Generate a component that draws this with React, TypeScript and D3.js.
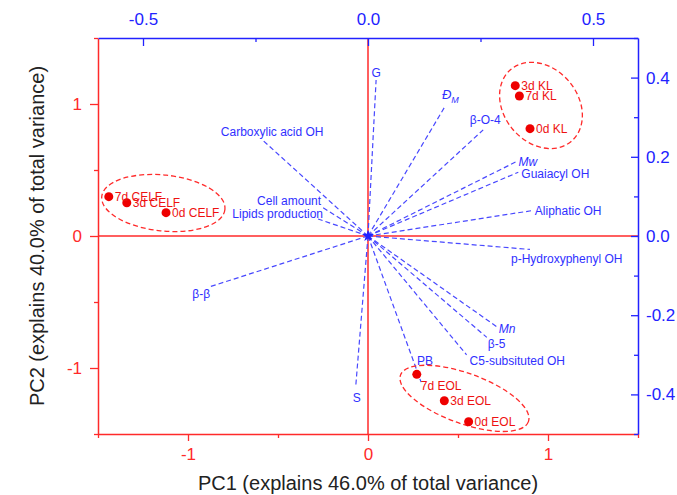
import * as d3 from "d3";
import React, { useRef, useEffect } from "react";

// sample scores (bottom / left axes)
const scoreNames = ["7d CELF", "3d CELF", "0d CELF", "3d KL", "7d KL", "0d KL", "7d EOL", "3d EOL", "0d EOL"];
const scorePC1 = [-1.44, -1.34, -1.122, 0.818, 0.841, 0.9, 0.271, 0.424, 0.559];
const scorePC2 = [0.298, 0.252, 0.177, 1.139, 1.061, 0.813, -1.048, -1.248, -1.407];

// variable loadings (top / right axes)
const loadingNames = [
  "G", "ĐM", "β-O-4", "Mw", "Guaiacyl OH", "Aliphatic OH", "p-Hydroxyphenyl OH", "Mn", "β-5",
  "C5-subsituted OH", "PB", "S", "β-β", "Carboxylic acid OH", "Cell amount", "Lipids production",
];
const loadingPC1 = [0.018, 0.171, 0.256, 0.33, 0.334, 0.364, 0.36, 0.286, 0.264, 0.219, 0.118, -0.027, -0.351, -0.233, -0.102, -0.111];
const loadingPC2 = [0.394, 0.327, 0.268, 0.188, 0.161, 0.064, -0.034, -0.229, -0.256, -0.3, -0.369, -0.376, -0.128, 0.241, 0.073, 0.043];
const italicNames = ["ĐM", "Mw", "Mn"];

// group ellipses, in score units
const groupNames = ["CELF", "KL", "EOL"];
const groupPC1 = [-1.137, 0.961, 0.536];
const groupPC2 = [0.25, 0.989, -1.23];
const groupSpreadPC1 = [0.344, 0.261, 0.378];
const groupSpreadPC2 = [0.212, 0.28, 0.19];
const groupTilt = [6, 50, 20];

const bottomTicks = [-1.5, -1, -0.5, 0, 0.5, 1, 1.5];
const leftTicks = [-1.5, -1, -0.5, 0, 0.5, 1, 1.5];
const topTicks = [-0.5, -0.25, 0, 0.25, 0.5];
const rightTicks = [-0.5, -0.4, -0.3, -0.2, -0.1, 0, 0.1, 0.2, 0.3, 0.4, 0.5];
const topLabels = [-0.5, 0, 0.5];
const rightLabels = [-0.4, -0.2, 0, 0.2, 0.4];

// label placement for loading names: [anchor, dx, dy]
const loadingLabelPos: Record<string, [string, number, number]> = {
  "G": ["middle", 0, -3],
  "ĐM": ["start", -3, -8],
  "β-O-4": ["middle", 2, -6],
  "Mw": ["start", 2, 4],
  "Guaiacyl OH": ["start", 3, 6],
  "Aliphatic OH": ["start", 3, 4],
  "p-Hydroxyphenyl OH": ["start", -19, 14],
  "Mn": ["start", 2, 6],
  "β-5": ["start", 1, 11],
  "C5-subsituted OH": ["start", 3, 10],
  "PB": ["start", -4, -17],
  "S": ["middle", 1, 17],
  "β-β": ["end", 0, 11],
  "Carboxylic acid OH": ["middle", 9, -5],
  "Cell amount": ["end", -1, -2],
  "Lipids production": ["end", 5, -1],
};

const RED = "#ff2a2a";
const BLUE = "#2222ff";
const FONT = "'Liberation Sans', Arial, sans-serif";

export default function App() {
  const svgRef = useRef<SVGSVGElement>(null);

  useEffect(() => {
    const width = 677;
    const height = 495;
    const left = 98, right = 638, top = 38, bottom = 434;

    const x = d3.scaleLinear().domain([-1.5, 1.5]).range([left, right]);
    const y = d3.scaleLinear().domain([-1.5, 1.5]).range([bottom, top]);
    const xTop = d3.scaleLinear().domain([-0.6, 0.6]).range([left, right]);
    const yRight = d3.scaleLinear().domain([-0.5, 0.5]).range([bottom, top]);

    const svg = d3.select(svgRef.current).attr("width", width).attr("height", height);
    svg.selectAll("*").remove();
    svg.style("font-family", FONT);

    // zero lines
    svg.append("line").attr("x1", left).attr("x2", right).attr("y1", y(0)).attr("y2", y(0))
      .attr("stroke", RED).attr("stroke-width", 1.5);
    svg.append("line").attr("x1", x(0)).attr("x2", x(0)).attr("y1", top).attr("y2", bottom)
      .attr("stroke", RED).attr("stroke-width", 1.5);

    // loadings
    const loadings = loadingNames.map((n, i) => ({ name: n, px: xTop(loadingPC1[i]), py: yRight(loadingPC2[i]) }));
    svg.append("g").selectAll("line").data(loadings).enter().append("line")
      .attr("x1", xTop(0)).attr("y1", yRight(0))
      .attr("x2", (d) => d.px).attr("y2", (d) => d.py)
      .attr("stroke", "#4848ff").attr("stroke-width", 1.2).attr("stroke-dasharray", "5,3");

    const lbl = svg.append("g").selectAll("text").data(loadings).enter().append("text")
      .attr("x", (d) => d.px + loadingLabelPos[d.name][1])
      .attr("y", (d) => d.py + loadingLabelPos[d.name][2])
      .attr("text-anchor", (d) => loadingLabelPos[d.name][0])
      .attr("font-size", 12).attr("fill", "#3030ff")
      .attr("font-style", (d) => (italicNames.includes(d.name) ? "italic" : "normal"));
    lbl.each(function (d) {
      const t = d3.select(this);
      if (d.name === "ĐM") {
        t.append("tspan").text("Đ").attr("font-size", 13);
        t.append("tspan").text("M").attr("font-size", 9).attr("dy", 4);
      } else {
        t.text(d.name);
      }
    });

    svg.append("path").attr("d", d3.symbol(d3.symbolStar, 45)())
      .attr("transform", `translate(${xTop(0)},${yRight(0)})`).attr("fill", BLUE);

    // group ellipses
    svg.append("g").selectAll("ellipse").data(groupNames).enter().append("ellipse")
      .attr("cx", 0).attr("cy", 0)
      .attr("rx", (d, i) => x(groupSpreadPC1[i]) - x(0))
      .attr("ry", (d, i) => y(0) - y(groupSpreadPC2[i]))
      .attr("transform", (d, i) => `translate(${x(groupPC1[i])},${y(groupPC2[i])}) rotate(${groupTilt[i]})`)
      .attr("fill", "none").attr("stroke", RED).attr("stroke-width", 1.3).attr("stroke-dasharray", "5,3");

    // scores
    const scores = scoreNames.map((n, i) => ({ name: n, px: x(scorePC1[i]), py: y(scorePC2[i]) }));
    svg.append("g").selectAll("circle").data(scores).enter().append("circle")
      .attr("cx", (d) => d.px).attr("cy", (d) => d.py).attr("r", 4.5).attr("fill", "#ee0000");
    svg.append("g").selectAll("text").data(scores).enter().append("text")
      .attr("x", (d) => d.px + (d.name === "7d EOL" ? 4 : 6))
      .attr("y", (d) => d.py + (d.name === "7d EOL" ? 16 : 4.5))
      .attr("font-size", 12).attr("fill", "#ee1111").text((d) => d.name);

    // axes
    const styleAxis = (g: any, color: string, majors: number[], fmt: (v: number) => string, fs: number) => {
      g.select(".domain").attr("stroke", color).attr("stroke-width", 1.5);
      g.selectAll(".tick line").attr("stroke", color).attr("stroke-width", 1.3);
      g.selectAll(".tick text").attr("fill", color).attr("font-size", fs).attr("font-family", FONT)
        .text((d: number) => (majors.some((m) => Math.abs(m - d) < 1e-9) ? fmt(d) : ""));
    };
    const intFmt = (v: number) => (v < 0 ? "-" : "") + Math.abs(v).toString();
    const decFmt = (v: number) => (v < 0 ? "-" : "") + Math.abs(v).toFixed(1);

    const gb = svg.append("g").attr("transform", `translate(0,${bottom})`)
      .call(d3.axisBottom(x).tickValues(bottomTicks).tickSizeOuter(0).tickSizeInner(7).tickPadding(7));
    styleAxis(gb, RED, [-1, 0, 1], intFmt, 17);
    gb.selectAll(".tick line").attr("y2", (d: number) => (Number.isInteger(d) ? 7 : 4));

    const gl = svg.append("g").attr("transform", `translate(${left},0)`)
      .call(d3.axisLeft(y).tickValues(leftTicks).tickSizeOuter(0).tickSizeInner(8).tickPadding(8));
    styleAxis(gl, RED, [-1, 0, 1], intFmt, 17);
    gl.selectAll(".tick line").attr("x2", (d: number) => (Number.isInteger(d) ? -8 : -4));

    const gt = svg.append("g").attr("transform", `translate(0,${top})`)
      .call(d3.axisTop(xTop).tickValues(topTicks).tickSizeOuter(0).tickSizeInner(-8).tickPadding(13));
    styleAxis(gt, BLUE, topLabels, decFmt, 17);
    gt.selectAll(".tick line").attr("y2", (d: number) => (topLabels.includes(d) ? 8 : 4));

    const gr = svg.append("g").attr("transform", `translate(${right},0)`)
      .call(d3.axisRight(yRight).tickValues(rightTicks).tickSizeOuter(0).tickSizeInner(-7).tickPadding(8));
    styleAxis(gr, BLUE, rightLabels, decFmt, 17);
    gr.selectAll(".tick line").attr("x2", (d: number) => (rightLabels.some((m) => Math.abs(m - d) < 1e-9) ? -7 : -4));

    // axis titles
    svg.append("text").attr("x", x(0)).attr("y", 490).attr("text-anchor", "middle")
      .attr("font-size", 20).attr("fill", "#222").text("PC1 (explains 46.0% of total variance)");
    svg.append("text").attr("transform", `translate(44,${y(0)}) rotate(-90)`).attr("text-anchor", "middle")
      .attr("font-size", 20).attr("fill", "#222").text("PC2 (explains 40.0% of total variance)");
  }, []);

  return <svg ref={svgRef} style={{ position: "absolute", left: 0, top: 0, background: "#fff" }}></svg>;
}
